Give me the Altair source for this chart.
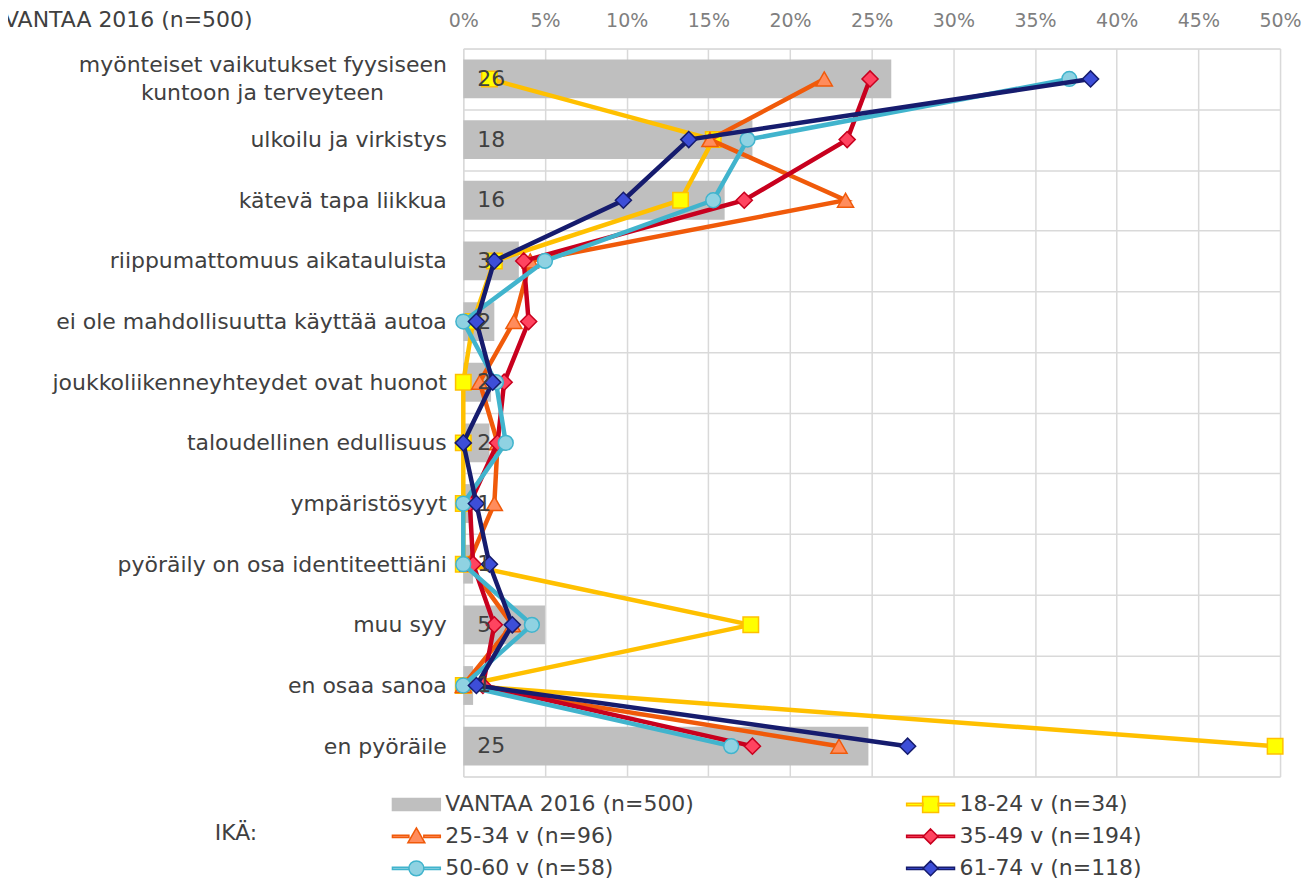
import altair as alt
import pandas as pd

FONT = "DejaVu Sans"
NB = "\u00a0"
ZW = "\u200b"

categories = [
    "myönteiset vaikutukset fyysiseen\nkuntoon ja terveyteen" + NB * 9 + ZW,
    "ulkoilu ja virkistys",
    "kätevä tapa liikkua",
    "riippumattomuus aikatauluista",
    "ei ole mahdollisuutta käyttää autoa",
    "joukkoliikenneyhteydet ovat huonot",
    "taloudellinen edullisuus",
    "ympäristösyyt",
    "pyöräily on osa identiteettiäni",
    "muu syy",
    "en osaa sanoa",
    "en pyöräile",
]

vantaa_2016 = [26.2, 17.7, 16.0, 3.4, 1.9, 1.7, 1.6, 0.6, 0.6, 5.0, 0.6, 24.8]
age_18_24 = [1.6, 15.3, 13.3, 1.9, 0.6, 0.0, 0.0, 0.0, 0.0, 17.6, 0.0, 49.7]
age_25_34 = [22.1, 15.1, 23.4, 4.1, 3.1, 1.0, 2.1, 1.9, 0.3, 3.0, 0.0, 23.0]
age_35_49 = [24.9, 23.5, 17.2, 3.7, 4.0, 2.5, 2.1, 0.4, 0.6, 1.9, 1.2, 17.7]
age_50_60 = [37.1, 17.4, 15.3, 5.0, 0.0, 2.0, 2.6, 0.0, 0.0, 4.2, 0.0, 16.4]
age_61_74 = [38.4, 13.8, 9.8, 1.9, 0.8, 1.8, 0.0, 0.8, 1.6, 3.0, 0.8, 27.2]

series_names = [
    "VANTAA 2016 (n=500)",
    "18-24 v (n=34)",
    "25-34 v (n=96)",
    "35-49 v (n=194)",
    "50-60 v (n=58)",
    "61-74 v (n=118)",
]
line_colors = ["#BFBFBF", "#FFC000", "#F05A0A", "#C8001E", "#41B4CD", "#161C6E"]
marker_fills = ["#BFBFBF", "#FFFF00", "#FF8C5C", "#FF4460", "#8FD2E2", "#3D4ED8"]
marker_shapes = [None, "square", "triangle-up", "diamond", "circle", "diamond"]
marker_sizes = [0, 240, 260, 260, 220, 260]

series_values = [age_18_24, age_25_34, age_35_49, age_50_60, age_61_74]

bars_df = pd.DataFrame({"cat": categories, "value": vantaa_2016})
rows = []
for name, vals in zip(series_names[1:], series_values):
    for i, (c, v) in enumerate(zip(categories, vals)):
        rows.append({"cat": c, "idx": i, "series": name, "value": v})
lines_df = pd.DataFrame(rows)

x_scale = alt.Scale(domain=[0, 50], nice=False, zero=True)
x_axis = alt.Axis(
    orient="top", values=list(range(0, 51, 5)), labelExpr="datum.value + '%'",
    ticks=False, tickSize=0, domain=False, labelPadding=18, labelFontSize=19,
    labelColor="#7F7F7F", labelFont=FONT, labelFlush=False, grid=True,
    gridColor="#D9D9D9", gridWidth=1.5, title=None,
)
y_axis = alt.Axis(
    title=None, ticks=False, domain=False, grid=True, tickBand="extent",
    gridColor="#D9D9D9", gridWidth=1.5, labelFontSize=22, labelFont=FONT,
    labelColor="#404040", labelPadding=17, labelLimit=0,
    labelExpr="split(datum.label, '\\n')", labelLineHeight=28,
    labelOffset={"condition": {"test": "indexof(datum.label, '\\n') >= 0", "value": -14}, "value": 0},
)
y_enc = alt.Y("cat:N", sort=categories, scale=alt.Scale(paddingInner=0, paddingOuter=0), axis=y_axis)

bars = alt.Chart(bars_df).mark_bar(height={"band": 0.64}, color="#BFBFBF").encode(
    x=alt.X("value:Q", scale=x_scale, axis=x_axis),
    y=y_enc,
)

layers = [bars]
for k in range(1, 6):
    name = series_names[k]
    base = alt.Chart(lines_df).transform_filter(alt.datum.series == name)
    line = base.mark_line(color=line_colors[k], strokeWidth=4.5).encode(
        x=alt.X("value:Q", scale=x_scale),
        y=alt.Y("cat:N", sort=categories),
        order=alt.Order("idx:Q"),
    )
    pts = base.mark_point(
        shape=marker_shapes[k], filled=True, fill=marker_fills[k], stroke=line_colors[k],
        strokeWidth=1.5, size=marker_sizes[k], opacity=1,
    ).encode(
        x=alt.X("value:Q", scale=x_scale),
        y=alt.Y("cat:N", sort=categories),
    )
    layers += [line, pts]

labels = alt.Chart(bars_df).mark_text(
    align="left", baseline="middle", dx=14, fontSize=22, font=FONT, color="#404040"
).encode(
    x=alt.datum(0),
    y=alt.Y("cat:N", sort=categories),
    text=alt.Text("value:Q", format=".0f"),
)
layers.append(labels)

# legend symbols: unit = 17 px (symbol size 34 px), shapes drawn ~50 px wide
def line_marker(marker):
    h = 0.07
    seg = f"M-1.41,-{h}H-0.44V{h}H-1.41Z M0.44,-{h}H1.41V{h}H0.44Z "
    return seg + marker

legend_paths = [
    "M-1.41,-0.35H1.41V0.35H-1.41Z",
    line_marker("M-0.47,-0.47H0.47V0.47H-0.47Z"),
    line_marker("M0,-0.5L0.5,0.38H-0.5Z"),
    line_marker("M0,-0.44L0.44,0L0,0.44L-0.44,0Z"),
    line_marker("M-0.44,0A0.44,0.44 0 1,0 0.44,0A0.44,0.44 0 1,0 -0.44,0Z"),
    line_marker("M0,-0.44L0.44,0L0,0.44L-0.44,0Z"),
]
# legend fills column by column: first column VANTAA, 25-34, 50-60
legend_order = [0, 2, 4, 1, 3, 5]
leg_names = [series_names[i] for i in legend_order]
leg_paths = [legend_paths[i] for i in legend_order]
leg_fills = [marker_fills[i] for i in legend_order]
leg_strokes = [line_colors[i] for i in legend_order]

legend_df = pd.DataFrame({"series": leg_names})
leg = alt.Legend(
    orient="none", legendX=-249, legendY=739, columns=2, columnPadding=209,
    rowPadding=3, symbolSize=1156, symbolStrokeWidth=1.5, symbolOpacity=1,
    labelFontSize=22, labelFont=FONT, labelColor="#404040", labelOffset=11,
    labelLimit=0, title="IKÄ:", titleOrient="left", titleAnchor="middle",
    titleBaseline="middle", titleFontSize=22, titleFont=FONT,
    titleColor="#404040", titleFontWeight="normal", titlePadding=141,
)
legend_layer = alt.Chart(legend_df).mark_point(opacity=0, filled=True).encode(
    x=alt.datum(0),
    y=alt.value(0),
    shape=alt.Shape("series:N", title="IKÄ:", sort=leg_names,
                    scale=alt.Scale(domain=leg_names, range=leg_paths), legend=leg),
    fill=alt.Fill("series:N", title="IKÄ:", sort=leg_names,
                  scale=alt.Scale(domain=leg_names, range=leg_fills), legend=leg),
    stroke=alt.Stroke("series:N", title="IKÄ:", sort=leg_names,
                      scale=alt.Scale(domain=leg_names, range=leg_strokes), legend=leg),
)
layers.append(legend_layer)

title_df = pd.DataFrame({"t": ["VANTAA 2016 (n=500)"]})
title_layer = alt.Chart(title_df).mark_text(
    align="left", baseline="middle", fontSize=22, font=FONT, color="#404040"
).encode(x=alt.value(-460), y=alt.value(-29), text="t:N")
layers.append(title_layer)

chart = alt.layer(*layers).properties(
    width=818, height=729,
    autosize=alt.AutoSizeParams(type="none"),
    padding={"left": 456, "top": 40, "right": 24, "bottom": 106},
).configure_view(stroke=None).configure(background="white")

chart.save("out.html", embed_options={"renderer": "svg", "actions": False})
